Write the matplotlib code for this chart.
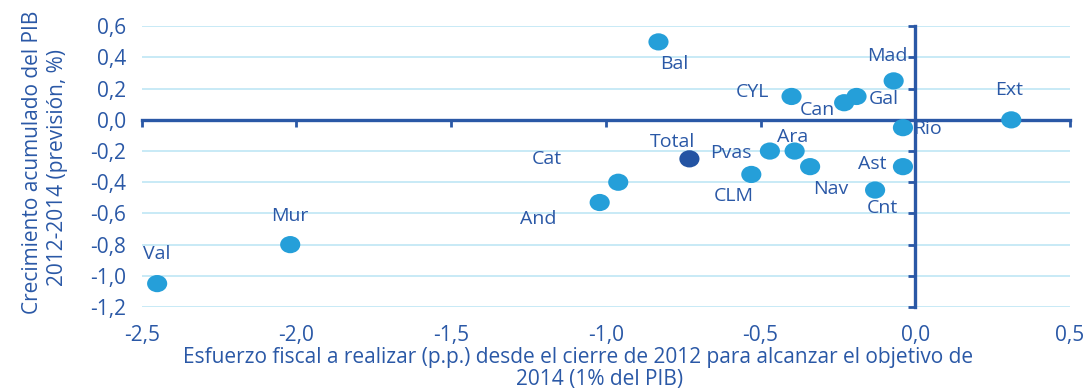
import numpy as np
import matplotlib.pyplot as plt
from matplotlib.path import Path
from matplotlib.transforms import Affine2D

plt.rcParams['font.family'] = ['Open Sans', 'DejaVu Sans']

# comunidades autonomas: esfuerzo fiscal (x) y crecimiento del PIB (y)
regiones = ['Val', 'Mur', 'And', 'Cat', 'Bal', 'Total', 'CLM', 'Pvas', 'CYL', 'Ara',
            'Nav', 'Can', 'Gal', 'Mad', 'Rio', 'Ast', 'Cnt', 'Ext']
esfuerzo = [-2.45, -2.02, -1.02, -0.96, -0.83, -0.73, -0.53, -0.47, -0.40, -0.39,
            -0.34, -0.23, -0.19, -0.07, -0.04, -0.04, -0.13, 0.31]
crecimiento = [-1.05, -0.80, -0.53, -0.40, 0.50, -0.25, -0.35, -0.20, 0.15, -0.20,
               -0.30, 0.11, 0.15, 0.25, -0.05, -0.30, -0.45, 0.00]

# desplazamiento de cada etiqueta respecto a su punto (pixeles)
offsets = {'Val': (0, 30), 'Mur': (0, 29), 'And': (-61, -16), 'Cat': (-71, 23),
           'Bal': (16, -22), 'Total': (-17, 17), 'CLM': (-18, -22), 'Pvas': (-39, -2),
           'CYL': (-39, 4), 'Ara': (-2, 14), 'Nav': (21, -22), 'Can': (-27, -7),
           'Gal': (27, -3), 'Mad': (-6, 25), 'Rio': (25, -1), 'Ast': (-31, 3),
           'Cnt': (7, -18), 'Ext': (-2, 30)}

azul_osc = '#2a58a6'
azul_pto = '#259fd9'
azul_total = '#2354a3'
rejilla = '#c4e8f6'

xticks = np.arange(-2.5, 0.51, 0.5)
yticks = np.arange(-1.2, 0.61, 0.2)

fig = plt.figure(figsize=(10.89, 3.89), dpi=100)
ax = fig.add_axes([0.1301, 0.2108, 0.8525, 0.7216])
ax.set_xlim(-2.5, 0.5)
ax.set_ylim(-1.2, 0.6)

for y in yticks:
    ax.axhline(y, color=rejilla, lw=1.3, zorder=0)

# marcador eliptico (un poco mas ancho que alto)
elipse = Path.unit_circle().transformed(Affine2D().scale(1.17, 1.0))

colores = [azul_total if r == 'Total' else azul_pto for r in regiones]
ax.scatter(esfuerzo, crecimiento, s=14.5**2, marker=elipse, c=colores,
           edgecolors='none', zorder=3, clip_on=False)

for r, x, y in zip(regiones, esfuerzo, crecimiento):
    ax.annotate(r, (x, y), xytext=offsets[r], textcoords='offset pixels',
                ha='center', va='center', fontsize=14, color=azul_osc, zorder=4)

# ejes que se cruzan en el origen
for lado in ['top', 'right']:
    ax.spines[lado].set_visible(False)
ax.spines['left'].set_position(('data', 0))
ax.spines['bottom'].set_position(('data', 0))
for lado in ['left', 'bottom']:
    ax.spines[lado].set_color(azul_osc)
    ax.spines[lado].set_linewidth(2.4)
    ax.spines[lado].set_zorder(2)
ax.set_xticks(xticks)
ax.set_yticks(yticks)
ax.tick_params(direction='out', length=5, width=2, color=azul_osc,
               labelleft=False, labelbottom=False)

# etiquetas de los ejes en los bordes del grafico
fmt = lambda v: f'{v:.1f}'.replace('.', ',').replace('-0,0', '0,0')
secx = ax.secondary_xaxis('bottom')
secx.set_xticks(xticks, [fmt(v) for v in xticks])
secx.tick_params(length=0, pad=13, labelsize=15, labelcolor=azul_osc)
secx.spines['bottom'].set_visible(False)
secy = ax.secondary_yaxis('left')
secy.set_yticks(yticks, [fmt(v) for v in yticks])
secy.tick_params(length=0, pad=11, labelsize=15, labelcolor=azul_osc)
secy.spines['left'].set_visible(False)

fig.text(578 / 1089, 1 - 358 / 389,
         'Esfuerzo fiscal a realizar (p.p.) desde el cierre de 2012 para alcanzar el objetivo de',
         ha='center', va='center', fontsize=15, color=azul_osc)
fig.text(600 / 1089, 1 - 380 / 389, '2014 (1% del PIB)',
         ha='center', va='center', fontsize=15, color=azul_osc)
fig.text(33 / 1089, 1 - 162 / 389, 'Crecimiento acumulado del PIB',
         ha='center', va='center', rotation=90, fontsize=15, color=azul_osc)
fig.text(58 / 1089, 1 - 167 / 389, '2012-2014 (previsión, %)',
         ha='center', va='center', rotation=90, fontsize=15, color=azul_osc)

fig.savefig('out.png', dpi=100, facecolor='white')
